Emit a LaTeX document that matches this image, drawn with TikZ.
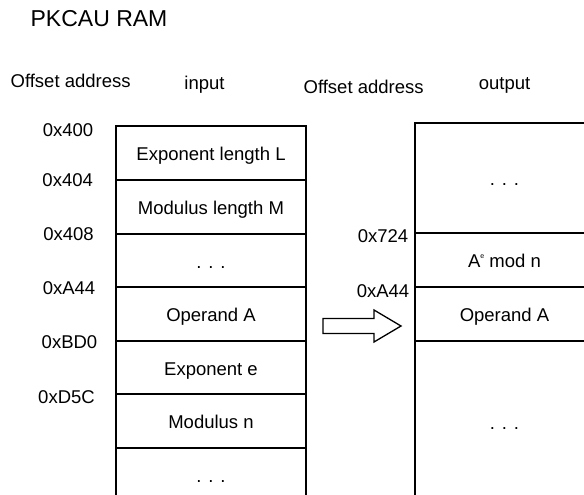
\documentclass[tikz,border=0pt]{standalone}
\usepackage{fontspec}
\setmainfont{Liberation Sans}
\begin{document}
\begin{tikzpicture}[x=1pt,y=-1pt, line width=1.3pt,
  every node/.style={font=\fontsize{18.5}{22}\selectfont, inner sep=0pt},
  lcell/.style={draw, minimum width=190pt, text height=15pt, text depth=0pt},
  rcell/.style={draw, minimum width=179pt, text height=15pt, text depth=0pt},
  lbl/.style={anchor=base},
  bigarrow/.style={draw, fill=white, line width=1.3pt, line join=miter}]
\useasboundingbox (0,0) rectangle (584,495);
\clip (0,0) rectangle (584,495);
% title and headers
\node[anchor=base west, font=\fontsize{23}{27}\selectfont] (title) at (30,27) {PKCAU RAM};
\node[anchor=base west] (offl) at (10,88) {Offset address};
\node[lbl] (inp) at (204.5,89) {input};
\node[anchor=base west] (offr) at (303,94) {Offset address};
\node[lbl] (outp) at (504.5,90) {output};
% input memory
\node[lcell, minimum height=54pt] (l1) at (211,153) {Exponent length L};
\node[lcell, minimum height=54pt] (l2) at (211,207) {Modulus length M};
\node[lcell, minimum height=53pt] (l3) at (211,260.5) {. . .};
\node[lcell, minimum height=54pt] (l4) at (211,314) {Operand A};
\node[lcell, minimum height=53pt] (l5) at (211,367.5) {Exponent e};
\node[lcell, minimum height=54pt] (l6) at (211,421) {Modulus n};
\node[lcell, minimum height=54pt] (l7) at (211,475) {. . .};
% input addresses
\node[lbl] (a1) at (68,136) {0x400};
\node[lbl] (a2) at (67.7,186) {0x404};
\node[lbl] (a3) at (68.5,240) {0x408};
\node[lbl] (a4) at (69,294) {0xA44};
\node[lbl] (a5) at (69.5,348) {0xBD0};
\node[lbl] (a6) at (66.5,403) {0xD5C};
% output memory
\node[rcell, minimum height=110pt] (r1) at (504.5,178) {. . .};
\node[rcell, minimum height=54pt] (r2) at (504.5,260) {A\raisebox{9pt}{\fontsize{7}{7}\selectfont e} mod n};
\node[rcell, minimum height=54pt] (r3) at (504.5,314) {Operand A};
\node[rcell, minimum height=161pt] (r4) at (504.5,421.5) {. . .};
% output addresses
\node[lbl] (b1) at (383,242) {0x724};
\node[lbl] (b2) at (383,297) {0xA44};
% block arrow
\draw[bigarrow] (323,318.5) -- (374,318.5) -- (374,310) -- (401,326)
  -- (374,342) -- (374,333.5) -- (323,333.5) -- cycle;
\end{tikzpicture}
\end{document}
